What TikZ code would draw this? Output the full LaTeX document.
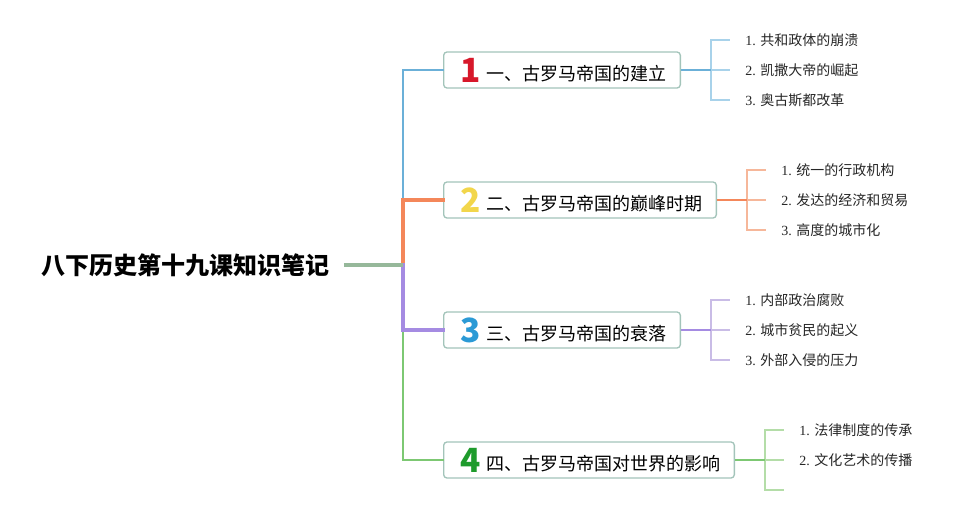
\documentclass[tikz,border=0pt]{standalone}
\usepackage{fontspec}
\setmainfont{Liberation Serif}
\newfontfamily\cjk{Noto Sans CJK SC}
\usetikzlibrary{positioning}
\definecolor{boxedge}{HTML}{A3C4BA}
\definecolor{rootline}{HTML}{96B89A}
\definecolor{bblue}{HTML}{6BB0D8}
\definecolor{borange}{HTML}{F4875A}
\definecolor{bpurple}{HTML}{A58BE2}
\definecolor{bgreen}{HTML}{7DC873}
\definecolor{lblue}{HTML}{A8D2EA}
\definecolor{lorange}{HTML}{F6B79A}
\definecolor{lpurple}{HTML}{C9BCE6}
\definecolor{lgreen}{HTML}{B4DDA8}
\definecolor{numred}{HTML}{D7182A}
\definecolor{numyellow}{HTML}{F2D64B}
\definecolor{numblue}{HTML}{2B9AD6}
\definecolor{numgreen}{HTML}{1E9B2C}
\newcommand{\boxlabel}[3]{\kern13.5pt\makebox[13.5pt]{\raisebox{-1.5pt}{\fontsize{25}{25}\selectfont\bfseries\color{#1}#2}}\kern5pt#3\kern10.5pt\null}

\begin{document}
\begin{tikzpicture}[x=0.75pt,y=-0.75pt,
    box/.style={draw=boxedge,fill=white,line width=1pt,rounded corners=2.5pt,anchor=west,
      minimum height=27pt,inner xsep=0pt,inner ysep=0pt,font=\cjk\fontsize{13.5}{15}\selectfont},
    item/.style={anchor=west,inner xsep=11.25pt,text=black!85,font=\fontsize{10.5}{12}\selectfont},
    trunk/.style={line cap=rect}, twig/.style={line width=1.1pt}]
    \useasboundingbox (0,0) rectangle (971,515);
    \node[font=\cjk\bfseries\fontsize{18}{20}\selectfont,inner xsep=11pt] (root) at (185,265) {八下历史第十九课知识笔记};
    \coordinate (hub) at (403,265);

    \node[box] (b1) at (443,70) {\boxlabel{numred}{1}{一、古罗马帝国的建立}};
    \node[box] (b2) at (443,200) {\boxlabel{numyellow}{2}{二、古罗马帝国的巅峰时期}};
    \node[box] (b3) at (443,330) {\boxlabel{numblue}{3}{三、古罗马帝国的衰落}};
    \node[box] (b4) at (443,460) {\boxlabel{numgreen}{4}{四、古罗马帝国对世界的影响}};

    \draw[trunk,bblue,line width=1.5pt] (hub) |- (b1.west);
    \draw[trunk,borange,line width=3pt] (hub) |- (b2.west);
    \draw[trunk,bgreen,line width=2.2pt] (hub) |- (b4.west);
    \draw[trunk,bpurple,line width=3.6pt] (hub) |- (b3.west);
    \draw[rootline,line width=3pt] (root) -- (hub);

    \node[item] (s11) at (730,40) {1. {\cjk 共和政体的崩溃}};
    \node[item] (s12) at (730,70) {2. {\cjk 凯撒大帝的崛起}};
    \node[item] (s13) at (730,100) {3. {\cjk 奥古斯都改革}};
    \node[item] (s21) at (766,170) {1. {\cjk 统一的行政机构}};
    \node[item] (s22) at (766,200) {2. {\cjk 发达的经济和贸易}};
    \node[item] (s23) at (766,230) {3. {\cjk 高度的城市化}};
    \node[item] (s31) at (730,300) {1. {\cjk 内部政治腐败}};
    \node[item] (s32) at (730,330) {2. {\cjk 城市贫民的起义}};
    \node[item] (s33) at (730,360) {3. {\cjk 外部入侵的压力}};
    \node[item] (s41) at (784,430) {1. {\cjk 法律制度的传承}};
    \node[item] (s42) at (784,460) {2. {\cjk 文化艺术的传播}};
    \coordinate (s43) at (784,490);

    \coordinate (k1) at ([xshift=22.5pt]b1.east);
    \coordinate (k2) at ([xshift=22.5pt]b2.east);
    \coordinate (k3) at ([xshift=22.5pt]b3.east);
    \coordinate (k4) at ([xshift=22.5pt]b4.east);

    \draw[twig,lblue] (k1) |- (s11.west) (k1) -- (s12.west) (k1) |- (s13.west);
    \draw[twig,bblue] (b1) -- (k1);
    \draw[twig,lorange] (k2) |- (s21.west) (k2) -- (s22.west) (k2) |- (s23.west);
    \draw[twig,borange] (b2) -- (k2);
    \draw[twig,lpurple] (k3) |- (s31.west) (k3) -- (s32.west) (k3) |- (s33.west);
    \draw[twig,bpurple] (b3) -- (k3);
    \draw[twig,lgreen] (k4) |- (s41.west) (k4) -- (s42.west) (k4) |- (s43);
    \draw[twig,bgreen] (b4) -- (k4);
\end{tikzpicture}
\end{document}
